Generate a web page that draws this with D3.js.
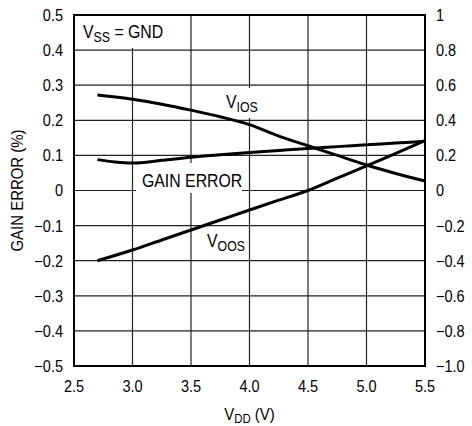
<!DOCTYPE html>
<html>
<head>
<meta charset="utf-8">
<script src="https://cdn.jsdelivr.net/npm/d3@7"></script>
<style>
  html, body { margin: 0; padding: 0; background: #fff; }
  svg { display: block; font-family: "Liberation Sans", Arial, sans-serif; }
</style>
</head>
<body>
<svg id="chart" width="472" height="426"></svg>
<script>
// ---- data ----
const xTicks = [2.5, 3.0, 3.5, 4.0, 4.5, 5.0, 5.5];
const xTickLabels = ["2.5", "3.0", "3.5", "4.0", "4.5", "5.0", "5.5"];
const leftTicks = [0.5, 0.4, 0.3, 0.2, 0.1, 0, -0.1, -0.2, -0.3, -0.4, -0.5];
const leftTickLabels = ["0.5", "0.4", "0.3", "0.2", "0.1", "0", "\u22120.1", "\u22120.2", "\u22120.3", "\u22120.4", "\u22120.5"];
const rightTicks = [1, 0.8, 0.6, 0.4, 0.2, 0, -0.2, -0.4, -0.6, -0.8, -1.0];
const rightTickLabels = ["1", "0.8", "0.6", "0.4", "0.2", "0", "\u22120.2", "\u22120.4", "\u22120.6", "\u22120.8", "\u22121.0"];

// gain error (left axis, %)
const gainVdd = [2.7, 2.85, 3.0, 3.25, 3.5, 3.75, 4.0, 4.25, 4.5, 4.75, 5.0, 5.25, 5.5];
const gainError = [0.088, 0.081, 0.078, 0.086, 0.095, 0.102, 0.108, 0.114, 0.120, 0.125, 0.130, 0.135, 0.140];
// offset voltages (right axis)
const vVdd = [2.7, 3.0, 3.25, 3.5, 3.75, 4.0, 4.25, 4.5, 4.75, 5.0, 5.25, 5.5];
const vios = [0.544, 0.52, 0.492, 0.458, 0.42, 0.375, 0.31, 0.255, 0.2, 0.145, 0.097, 0.054];
const voos = [-0.4, -0.339, -0.282, -0.225, -0.168, -0.111, -0.055, 0.0, 0.07, 0.14, 0.212, 0.284];

// ---- layout ----
const L = 74, R = 425, T = 15, B = 366;
const svg = d3.select("#chart");
const x = d3.scaleLinear().domain([2.5, 5.5]).range([L, R]);
const yL = d3.scaleLinear().domain([-0.5, 0.5]).range([B, T]);
const yR = d3.scaleLinear().domain([-1, 1]).range([B, T]);

// grid
const grid = svg.append("g").attr("stroke", "#222").attr("stroke-width", 1.2);
grid.selectAll("line.v").data(xTicks).join("line")
  .attr("x1", d => x(d)).attr("x2", d => x(d)).attr("y1", T).attr("y2", B);
grid.selectAll("line.h").data(leftTicks).join("line")
  .attr("y1", d => yL(d)).attr("y2", d => yL(d)).attr("x1", L).attr("x2", R);

// label masks
svg.append("rect").attr("x", L).attr("y", T).attr("width", 96).attr("height", 33).attr("fill", "#fff");
svg.append("rect").attr("x", 222).attr("y", 88).attr("width", 40).attr("height", 30).attr("fill", "#fff");
svg.append("rect").attr("x", 136).attr("y", 163).attr("width", 106).attr("height", 30).attr("fill", "#fff");

// frame
svg.append("rect").attr("x", L).attr("y", T).attr("width", R - L).attr("height", B - T)
  .attr("fill", "none").attr("stroke", "#000").attr("stroke-width", 2);

// curves
const lineG = d3.line().x(d => x(d[0])).y(d => yL(d[1])).curve(d3.curveMonotoneX);
const lineR = d3.line().x(d => x(d[0])).y(d => yR(d[1])).curve(d3.curveMonotoneX);
const curves = svg.append("g").attr("fill", "none").attr("stroke", "#000")
  .attr("stroke-width", 3).attr("stroke-linecap", "butt").attr("stroke-linejoin", "round");
curves.append("path").attr("d", lineG(gainVdd.map((v, i) => [v, gainError[i]])));
curves.append("path").attr("d", lineR(vVdd.map((v, i) => [v, vios[i]])));
curves.append("path").attr("d", lineR(vVdd.map((v, i) => [v, voos[i]])));

// tick labels (condensed look)
const SX = 0.88;
const tfs = 16.5;
function ctext(tx, ty, anchor, size, extra) {
  return svg.append("text")
    .attr("transform", `translate(${tx},${ty})${extra || ""} scale(${SX},1)`)
    .attr("text-anchor", anchor).attr("font-size", size);
}
leftTicks.forEach((d, i) => ctext(63, yL(d) + 5.9, "end", tfs).text(leftTickLabels[i]));
rightTicks.forEach((d, i) => ctext(436, yR(d) + 5.9, "start", tfs).text(rightTickLabels[i]));
xTicks.forEach((d, i) => ctext(x(d), 392, "middle", 16.5).text(xTickLabels[i]));

// axis titles
const afs = 17;
const xt = ctext(249.5, 420, "middle", afs);
xt.append("tspan").text("V");
xt.append("tspan").attr("font-size", 13).attr("dy", 3).text("DD");
xt.append("tspan").attr("dy", -3).text(" (V)");

ctext(23, (T + B) / 2, "middle", afs, " rotate(-90)").text("GAIN ERROR (%)");

// annotations
function subLabel(xp, yp, main, sub, rest) {
  const t = ctext(xp, yp, "start", 18);
  t.append("tspan").text(main);
  t.append("tspan").attr("font-size", 14).attr("dy", 4).text(sub);
  if (rest) t.append("tspan").attr("dy", -4).text(rest);
  return t;
}
subLabel(83, 37.7, "V", "SS", " = GND");
subLabel(226, 108, "V", "IOS");
subLabel(207, 247, "V", "OOS");
ctext(142, 187, "start", 18).text("GAIN ERROR");
</script>
</body>
</html>
